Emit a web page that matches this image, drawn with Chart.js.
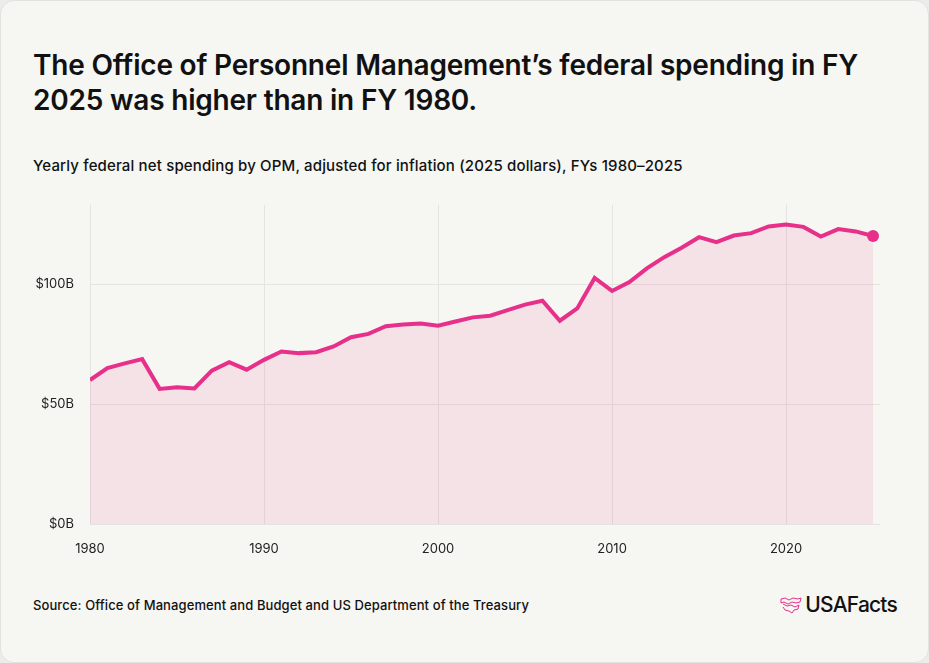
<!DOCTYPE html>
<html>
<head>
<meta charset="utf-8">
<script src="https://cdn.jsdelivr.net/npm/chart.js@4"></script>
<style>
  html, body { margin: 0; padding: 0; background: #ececea; }
  .card {
    position: absolute; left: 0; top: 0; width: 927px; height: 661px;
    background: #f6f6f2; border: 1px solid #e2e2de; border-radius: 14px;
    font-family: Inter, "Open Sans", sans-serif; color: #111;
  }
  .title {
    position: absolute; left: 32px; top: 47px; width: 860px;
    font-size: 28px; font-weight: 600; line-height: 35px; letter-spacing: -0.2px;
  }
  .subtitle {
    position: absolute; left: 32px; top: 155px;
    font-size: 15px; font-weight: 500; letter-spacing: 0.15px;
  }
  .source {
    position: absolute; left: 32px; top: 596px;
    font-size: 13px; font-weight: 500; letter-spacing: 0.1px;
  }
  .logo {
    position: absolute; right: 31px; top: 591px;
    font-size: 21px; font-weight: 500; letter-spacing: -0.8px;
    display: flex; align-items: center; gap: 3px;
  }
  .chart-box { position: absolute; left: 18px; top: 180px; width: 882px; height: 385px; }
</style>
</head>
<body>
<div class="card">
  <div class="title">The Office of Personnel Management’s federal spending in FY 2025 was higher than in FY 1980.</div>
  <div class="subtitle">Yearly federal net spending by OPM, adjusted for inflation (2025 dollars), FYs 1980–2025</div>
  <div class="chart-box"><canvas id="chart"></canvas></div>
  <div class="source">Source: Office of Management and Budget and US Department of the Treasury</div>
  <div class="logo">
    <svg width="22" height="18" viewBox="0 0 22 18" fill="none" stroke="#e6308a" stroke-width="1">
      <path d="M1 3 L5 2 L9 4 L13 2 L18 3 L21 2 L20 6 L16 7 L12 6 L8 8 L4 6 L1 7 Z"/>
      <path d="M3 8 L7 10 L11 9 L15 11 L19 9 L18 13 L14 14 L12 17 L9 15 L5 14 L3 11"/>
    </svg>
    <span>USAFacts</span>
  </div>
</div>

<script>
// fiscal years and OPM net spending, billions of 2025 dollars
const years = [1980, 1981, 1982, 1983, 1984, 1985, 1986, 1987, 1988, 1989,
               1990, 1991, 1992, 1993, 1994, 1995, 1996, 1997, 1998, 1999,
               2000, 2001, 2002, 2003, 2004, 2005, 2006, 2007, 2008, 2009,
               2010, 2011, 2012, 2013, 2014, 2015, 2016, 2017, 2018, 2019,
               2020, 2021, 2022, 2023, 2024, 2025];
const spending = [60.0, 65.0, 66.9, 68.7, 56.3, 57.0, 56.5, 63.9, 67.4, 64.3,
                  68.4, 71.9, 71.2, 71.6, 74.0, 77.8, 79.2, 82.4, 83.1, 83.5,
                  82.6, 84.4, 86.1, 86.8, 89.1, 91.4, 93.0, 84.7, 89.8, 102.5,
                  97.1, 100.8, 106.5, 111.2, 115.1, 119.5, 117.4, 120.2, 121.2, 124.0,
                  124.8, 123.8, 119.8, 122.9, 121.9, 120.0];
const yTicks = [0, 50, 100];
const xTicks = [1980, 1990, 2000, 2010, 2020];

const points = years.map((y, i) => ({ x: y, y: spending[i] }));
const lastIdx = points.length - 1;
const pink = '#e6308a';
const gridColor = '#e4e4e0';
const tickFont = { family: 'Inter, "Open Sans", sans-serif', size: 13 };

new Chart(document.getElementById('chart'), {
  type: 'line',
  data: {
    datasets: [{
      data: points,
      borderColor: pink,
      borderWidth: 4,
      backgroundColor: 'rgba(230, 48, 138, 0.1)',
      fill: 'origin',
      tension: 0,
      pointRadius: ctx => ctx.dataIndex === lastIdx ? 6 : 0,
      pointBackgroundColor: pink,
      pointBorderWidth: 0,
      pointHoverRadius: 0
    }]
  },
  options: {
    responsive: true,
    maintainAspectRatio: false,
    animation: false,
    layout: { padding: { top: 7, right: 21, bottom: 0, left: 0 } },
    plugins: { legend: { display: false }, tooltip: { enabled: false } },
    scales: {
      x: {
        type: 'linear',
        min: 1980,
        max: 2025.4,
        afterBuildTicks: axis => { axis.ticks = xTicks.map(v => ({ value: v })); },
        afterFit: axis => { axis.height = 42; },
        grid: { color: gridColor, lineWidth: 1, drawTicks: false },
        border: { display: false },
        ticks: {
          color: '#222', font: tickFont, padding: 17, maxRotation: 0,
          callback: v => String(v)
        }
      },
      y: {
        min: 0,
        max: 133,
        afterBuildTicks: axis => { axis.ticks = yTicks.map(v => ({ value: v })); },
        afterFit: axis => { axis.width = 71; },
        grid: { color: gridColor, lineWidth: 1, drawTicks: false },
        border: { display: false },
        ticks: {
          color: '#222', font: tickFont, padding: 16,
          callback: v => '$' + v + 'B'
        }
      }
    }
  }
});
</script>
</body>
</html>
